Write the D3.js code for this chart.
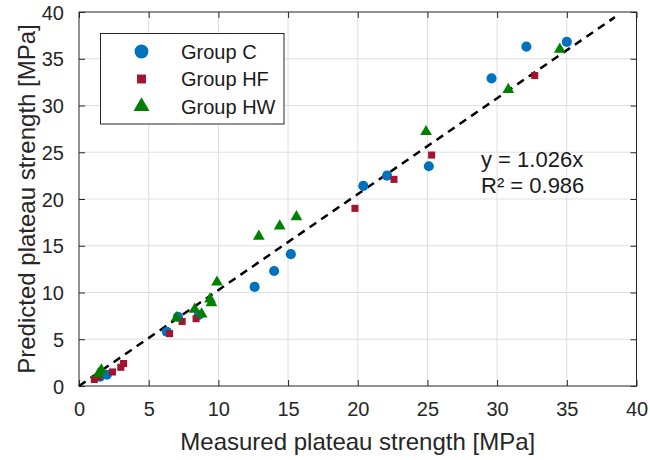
<!DOCTYPE html>
<html>
<head>
<meta charset="utf-8">
<script src="https://cdn.jsdelivr.net/npm/d3@7"></script>
<style>
  html, body { margin: 0; padding: 0; background: #fff; }
  svg { display: block; font-family: "Liberation Sans", Arial, Helvetica, sans-serif; }
</style>
</head>
<body>
<svg id="chart" width="650" height="460"></svg>
<script>
// Measured vs predicted plateau strength [MPa], per specimen group
const groupC = [
  [1.5, 1.0], [2.0, 1.2], [6.3, 5.8], [7.1, 7.4], [8.6, 7.6], [12.6, 10.6],
  [14.0, 12.3], [15.2, 14.1], [20.4, 21.4], [22.1, 22.5], [25.1, 23.5],
  [29.6, 32.9], [32.1, 36.3], [35.0, 36.8]
];
const groupHF = [
  [1.1, 0.7], [1.4, 1.0], [2.4, 1.5], [3.0, 2.0], [3.2, 2.4], [6.5, 5.6],
  [7.4, 6.9], [8.4, 7.2], [19.8, 19.0], [22.6, 22.1], [25.3, 24.7], [32.7, 33.2]
];
const groupHW = [
  [1.4, 1.3], [1.6, 1.7], [7.0, 7.3], [8.3, 8.2], [8.8, 7.7], [9.4, 9.3],
  [9.5, 8.9], [9.9, 11.1], [12.9, 16.0], [14.4, 17.1], [15.6, 18.1],
  [24.9, 27.2], [30.8, 31.7], [34.5, 36.0]
];
const seriesNames = ["Group C", "Group HF", "Group HW"];
const tickValues = [0, 5, 10, 15, 20, 25, 30, 35, 40];
const fitSlope = 1.026;
const fitR2 = 0.986;
const fitRange = [0, 38.45];

const svg = d3.select("#chart");
const plotLeft = 79, plotRight = 636.5, plotTop = 12, plotBottom = 386;
const x = d3.scaleLinear().domain([0, 40]).range([plotLeft, plotRight]);
const y = d3.scaleLinear().domain([0, 40]).range([plotBottom, plotTop]);
const axisColor = "#262626";

// grid
const grid = svg.append("g");
grid.selectAll("line.vx").data(tickValues.slice(1, -1)).enter().append("line")
  .attr("x1", d => x(d)).attr("x2", d => x(d)).attr("y1", plotTop).attr("y2", plotBottom)
  .attr("stroke", "#dfdfdf").attr("stroke-width", 1);
grid.selectAll("line.hy").data(tickValues.slice(1, -1)).enter().append("line")
  .attr("y1", d => y(d)).attr("y2", d => y(d)).attr("x1", plotLeft).attr("x2", plotRight)
  .attr("stroke", "#dfdfdf").attr("stroke-width", 1);

// axes with inward ticks on all four sides
const tickLen = 6;
function styleAxis(g) {
  g.select(".domain").remove();
  g.selectAll(".tick line").attr("stroke", axisColor).attr("stroke-width", 1);
  g.selectAll(".tick text").attr("fill", axisColor).attr("font-size", 20)
    .attr("font-family", "Liberation Sans, Arial, sans-serif");
}
svg.append("g").attr("transform", `translate(0,${plotBottom})`)
  .call(d3.axisBottom(x).tickValues(tickValues).tickSizeInner(-tickLen).tickSizeOuter(0).tickPadding(16))
  .call(styleAxis);
svg.append("g").attr("transform", `translate(${plotLeft},0)`)
  .call(d3.axisLeft(y).tickValues(tickValues).tickSizeInner(-tickLen).tickSizeOuter(0).tickPadding(15))
  .call(styleAxis)
  .selectAll(".tick text").attr("dy", "0.36em");
svg.append("g").attr("transform", `translate(0,${plotTop})`)
  .call(d3.axisTop(x).tickValues(tickValues).tickSizeInner(-tickLen).tickSizeOuter(0).tickFormat(""))
  .call(styleAxis);
svg.append("g").attr("transform", `translate(${plotRight},0)`)
  .call(d3.axisRight(y).tickValues(tickValues).tickSizeInner(-tickLen).tickSizeOuter(0).tickFormat(""))
  .call(styleAxis);

svg.append("rect").attr("x", plotLeft).attr("y", plotTop)
  .attr("width", plotRight - plotLeft).attr("height", plotBottom - plotTop)
  .attr("fill", "none").attr("stroke", axisColor).attr("stroke-width", 1);

// fit line
svg.append("line")
  .attr("x1", x(fitRange[0])).attr("y1", y(fitSlope * fitRange[0]))
  .attr("x2", x(fitRange[1])).attr("y2", y(fitSlope * fitRange[1]))
  .attr("stroke", "#000").attr("stroke-width", 2.5).attr("stroke-dasharray", "8,6");

// markers
const styles = [
  { data: groupC, color: "#0072BD", type: d3.symbolCircle, size: 80, legendSize: 150 },
  { data: groupHF, color: "#A2142F", type: d3.symbolSquare, size: 50, legendSize: 80 },
  { data: groupHW, color: "#008000", type: d3.symbolTriangle, size: 60, legendSize: 110 }
];
styles.forEach(s => {
  svg.append("g").selectAll("path").data(s.data).enter().append("path")
    .attr("d", d3.symbol().type(s.type).size(s.size))
    .attr("transform", d => `translate(${x(d[0])},${y(d[1])})`)
    .attr("fill", s.color);
});

// fit annotation
const ann = svg.append("text").attr("fill", "#1a1a1a").attr("font-size", 22);
ann.append("tspan").attr("x", 481).attr("y", 167).text(`y = ${fitSlope.toFixed(3)}x`);
ann.append("tspan").attr("x", 481).attr("y", 193).text(`R² = ${fitR2.toFixed(3)}`);

// legend
const lg = svg.append("g");
lg.append("rect").attr("x", 100.5).attr("y", 33.5).attr("width", 183.5).attr("height", 90.5)
  .attr("fill", "#fff").attr("stroke", axisColor).attr("stroke-width", 1);
styles.forEach((s, i) => {
  const cy = 51.5 + i * 27.5;
  lg.append("path").attr("d", d3.symbol().type(s.type).size(s.legendSize)())
    .attr("transform", `translate(141.5,${cy})`).attr("fill", s.color);
  lg.append("text").attr("x", 181).attr("y", cy).attr("dy", "0.36em")
    .attr("font-size", 20).attr("fill", "#1a1a1a").text(seriesNames[i]);
});

// axis titles
svg.append("text").attr("x", (plotLeft + plotRight) / 2).attr("y", 450)
  .attr("text-anchor", "middle").attr("font-size", 24).attr("fill", axisColor)
  .text("Measured plateau strength [MPa]");
svg.append("text")
  .attr("transform", `translate(35,${(plotTop + plotBottom) / 2}) rotate(-90)`)
  .attr("text-anchor", "middle").attr("font-size", 24).attr("fill", axisColor)
  .text("Predicted plateau strength [MPa]");
</script>
</body>
</html>
